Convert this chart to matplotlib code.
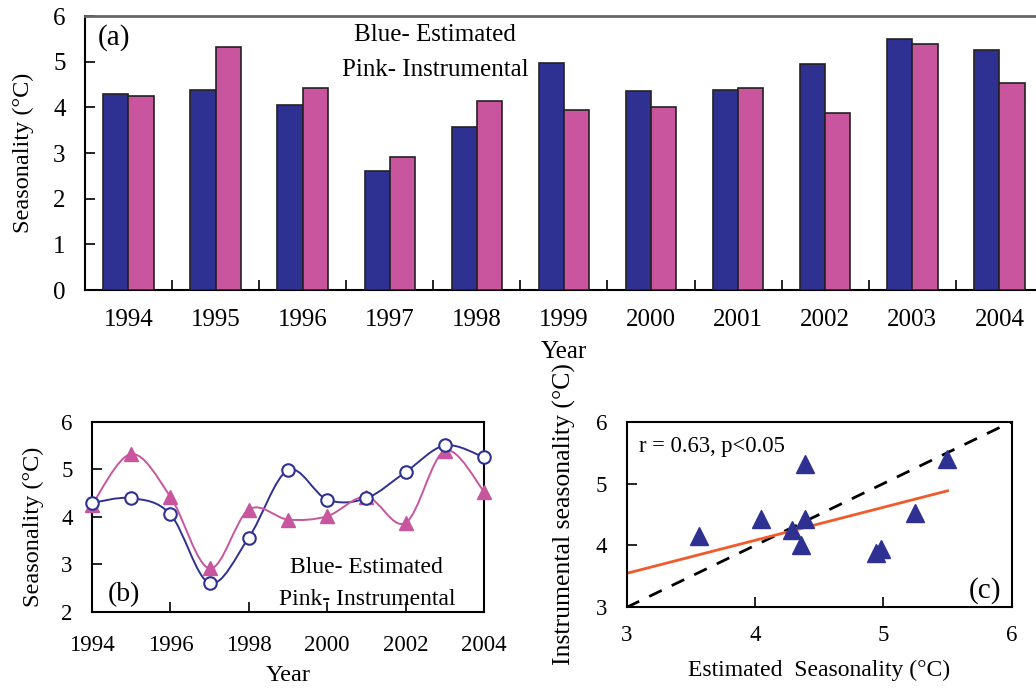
import numpy as np
import matplotlib
matplotlib.use("Agg")
import matplotlib.pyplot as plt
from matplotlib.path import Path
from matplotlib.patches import PathPatch

plt.rcParams['font.family'] = ['Liberation Serif', 'DejaVu Serif']

# data
years = [1994, 1995, 1996, 1997, 1998, 1999, 2000, 2001, 2002, 2003, 2004]
estimated = [4.29, 4.39, 4.05, 2.60, 3.56, 4.98, 4.36, 4.39, 4.94, 5.50, 5.25]
instrumental = [4.25, 5.32, 4.42, 2.91, 4.15, 3.94, 4.01, 4.42, 3.87, 5.39, 4.53]

blue = '#2E3192'
pink = '#C9559E'
red = '#F15A29'


def smooth_path(xs, ys):
    # Catmull-Rom style bezier (like a spreadsheet "smoothed line")
    pts = np.column_stack([xs, ys]).astype(float)
    n = len(pts)
    verts = [pts[0]]
    codes = [Path.MOVETO]
    for i in range(n - 1):
        p0 = pts[i - 1] if i > 0 else pts[i]
        p1 = pts[i]
        p2 = pts[i + 1]
        p3 = pts[i + 2] if i + 2 < n else pts[i + 1]
        c1 = p1 + (p2 - p0) / 6.0
        c2 = p2 - (p3 - p1) / 6.0
        verts += [c1, c2, p2]
        codes += [Path.CURVE4] * 3
    return Path(verts, codes)


fig = plt.figure(figsize=(10.36, 6.91), dpi=100)

# ---- (a) bar chart ----
ax1 = fig.add_axes([0.0820, 0.5803, 0.9247, 0.3965])
x = np.arange(len(years))
w = 0.29
ax1.bar(x - w / 2, estimated, w, color=blue, edgecolor='#222222', linewidth=1.2, zorder=3)
ax1.bar(x + w / 2, instrumental, w, color=pink, edgecolor='#222222', linewidth=1.2, zorder=3)
ax1.set_xlim(-0.5, len(years) - 0.5)
ax1.set_ylim(0, 6)
ax1.set_yticks(range(7))
ax1.set_xticks(x)
ax1.set_xticklabels([str(y) for y in years], fontsize=18)
ax1.set_xticks(x[:-1] + 0.5, minor=True)
ax1.tick_params(axis='x', which='major', length=0, pad=14)
ax1.tick_params(axis='x', which='minor', direction='in', length=7, width=1.2)
ax1.tick_params(axis='y', direction='in', length=7, width=1.2, labelsize=18, pad=14)
ax1.set_ylabel('Seasonality (°C)', fontsize=17.5, labelpad=14)
ax1.set_xlabel('Year', fontsize=18, labelpad=7)
ax1.spines['top'].set_color('#666666')
ax1.spines['top'].set_linewidth(2)
ax1.spines['right'].set_visible(False)
for s in ['left', 'bottom']:
    ax1.spines[s].set_linewidth(1.5)
ax1.text(0.013, 0.921, '(a)', transform=ax1.transAxes, fontsize=21, va='center')
ax1.text(0.365, 0.931, 'Blue- Estimated', transform=ax1.transAxes, fontsize=18,
         ha='center', va='center')
ax1.text(0.366, 0.803, 'Pink- Instrumental', transform=ax1.transAxes, fontsize=18,
         ha='center', va='center')

# ---- (b) smoothed lines ----
ax2 = fig.add_axes([0.0888, 0.1148, 0.3784, 0.2749])
ax2.add_patch(PathPatch(smooth_path(years, estimated), fill=False, edgecolor=blue,
                        linewidth=1.4, zorder=2))
ax2.add_patch(PathPatch(smooth_path(years, instrumental), fill=False, edgecolor=pink,
                        linewidth=1.4, zorder=2))
ax2.plot(years, estimated, linestyle='none', marker='o', ms=9, mfc='white',
         mec=blue, mew=1.5, zorder=4, clip_on=False)
ax2.plot(years, instrumental, linestyle='none', marker='^', ms=10, mfc=pink,
         mec=pink, zorder=3, clip_on=False)
ax2.set_xlim(1994, 2004)
ax2.set_ylim(2, 6)
ax2.set_xticks(range(1994, 2005, 2))
ax2.set_yticks(range(2, 7))
ax2.tick_params(axis='x', direction='in', length=7, width=1.2, labelsize=16.5, pad=17)
ax2.tick_params(axis='y', direction='in', length=7, width=1.2, labelsize=16.5, pad=14)
ax2.set_ylabel('Seasonality (°C)', fontsize=17.5, labelpad=12)
ax2.yaxis.label.set_y(0.447)
ax2.set_xlabel('Year', fontsize=17.5, labelpad=6)
for s in ax2.spines.values():
    s.set_linewidth(1.5)
ax2.text(0.04, 0.089, '(b)', transform=ax2.transAxes, fontsize=20, va='center')
ax2.text(0.70, 0.235, 'Blue- Estimated', transform=ax2.transAxes, fontsize=17,
         ha='center', va='center')
ax2.text(0.703, 0.062, 'Pink- Instrumental', transform=ax2.transAxes, fontsize=17,
         ha='center', va='center')

# ---- (c) scatter ----
ax3 = fig.add_axes([0.6049, 0.1211, 0.3716, 0.2686])
ax3.plot([3, 6], [3, 6], color='black', linestyle=(0, (5, 4)), linewidth=2, zorder=2)
slope, icpt = np.polyfit(estimated, instrumental, 1)
fx = np.array([min(estimated), max(estimated)])
ax3.plot(fx, slope * fx + icpt, color=red, linewidth=2, zorder=2)
ax3.plot(estimated, instrumental, linestyle='none', marker='^', ms=13,
         color=blue, zorder=3)
ax3.set_xlim(3, 6)
ax3.set_ylim(3, 6)
ax3.set_xticks([3, 4, 5, 6])
ax3.set_yticks([3, 4, 5, 6])
ax3.tick_params(axis='x', direction='in', length=7, width=1.2, labelsize=16.5, pad=13)
ax3.tick_params(axis='y', direction='in', length=7, width=1.2, labelsize=16.5, pad=14)
ax3.set_xlabel('Estimated  Seasonality (°C)', fontsize=17, labelpad=10)
ax3.set_ylabel('Instrumental seasonality (°C)', fontsize=18.5, labelpad=14)
for s in ax3.spines.values():
    s.set_linewidth(1.5)
ax3.text(0.032, 0.864, 'r = 0.63, p<0.05', transform=ax3.transAxes, fontsize=16.3,
         va='center')
ax3.text(0.931, 0.09, '(c)', transform=ax3.transAxes, fontsize=21, ha='center',
         va='center')

fig.savefig('out.png', dpi=100)
